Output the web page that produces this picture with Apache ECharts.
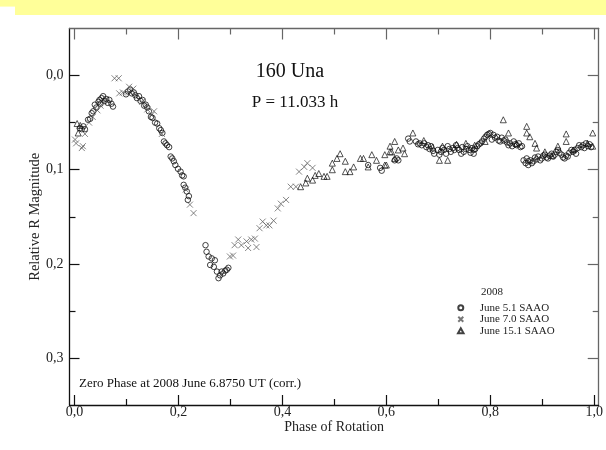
<!DOCTYPE html>
<html>
<head>
<meta charset="utf-8">
<script src="https://cdn.jsdelivr.net/npm/echarts@6/dist/echarts.min.js"></script>
<style>html,body{margin:0;padding:0;background:#fff;}#c{width:606px;height:450px;}</style>
</head>
<body>
<div id="c"></div>
<script>
// ---- data ----
const xMajorTicks = [0, 0.2, 0.4, 0.6, 0.8, 1.0];
const xMinorTicks = [0.1, 0.3, 0.5, 0.7, 0.9];
const yMajorTicks = [0, 0.1, 0.2, 0.3];
const yMinorTicks = [0.05, 0.15, 0.25];
const seriesNames = ['June 5.1 SAAO', 'June 7.0 SAAO', 'June 15.1 SAAO'];

const june51 = [
[0.010,0.056],[0.014,0.057],[0.017,0.054],[0.020,0.057],[0.026,0.047],[0.030,0.046],[0.033,0.040],[0.036,0.038],[0.039,0.031],[0.042,0.034],[0.046,0.028],[0.048,0.026],[0.050,0.030],[0.052,0.024],[0.055,0.022],[0.058,0.027],[0.061,0.025],[0.064,0.029],[0.067,0.026],[0.071,0.030],[0.074,0.033],
[0.099,0.020],[0.103,0.017],[0.107,0.015],[0.110,0.019],[0.114,0.018],[0.117,0.021],[0.120,0.024],[0.124,0.022],[0.127,0.027],[0.131,0.026],[0.134,0.032],[0.137,0.031],[0.140,0.034],[0.143,0.038],[0.147,0.044],[0.150,0.045],[0.155,0.050],[0.159,0.051],[0.163,0.056],[0.166,0.058],[0.169,0.061],[0.172,0.070],[0.175,0.072],[0.178,0.074],[0.182,0.076],[0.185,0.086],[0.188,0.088],[0.191,0.091],[0.194,0.095],[0.199,0.099],[0.204,0.102],[0.207,0.106],[0.210,0.107],[0.210,0.116],[0.213,0.119],[0.216,0.123],[0.220,0.128],[0.218,0.132],
[0.252,0.180],[0.254,0.187],[0.258,0.192],[0.261,0.201],[0.264,0.194],[0.268,0.203],[0.270,0.196],[0.274,0.208],[0.277,0.215],[0.280,0.212],[0.283,0.208],[0.286,0.210],[0.290,0.207],[0.293,0.206],[0.296,0.204],
[0.565,0.095],[0.588,0.098],[0.591,0.101],[0.616,0.090],[0.620,0.088],[0.623,0.090],[0.642,0.067],[0.645,0.070],[0.657,0.070],[0.661,0.073],[0.664,0.072],[0.668,0.074],[0.673,0.072],[0.677,0.076],[0.680,0.074],[0.683,0.078],[0.686,0.075],[0.690,0.080],[0.692,0.083],[0.699,0.079],[0.702,0.084],[0.705,0.081],[0.708,0.077],[0.711,0.079],[0.715,0.083],[0.718,0.075],[0.721,0.078],[0.724,0.081],[0.728,0.077],[0.731,0.079],[0.734,0.074],[0.737,0.077],[0.740,0.079],[0.744,0.083],[0.746,0.076],[0.749,0.081],[0.753,0.078],[0.756,0.075],[0.759,0.079],[0.762,0.082],[0.765,0.077],[0.768,0.079],[0.768,0.083],[0.771,0.078],[0.775,0.075],[0.778,0.073],[0.781,0.072],[0.784,0.070],[0.788,0.067],[0.791,0.065],[0.794,0.063],[0.797,0.062],[0.800,0.061],[0.803,0.068],[0.806,0.063],[0.809,0.066],[0.813,0.065],[0.816,0.069],[0.819,0.070],[0.822,0.066],[0.826,0.069],[0.829,0.068],[0.832,0.071],[0.835,0.074],[0.838,0.072],[0.842,0.075],[0.845,0.070],[0.848,0.073],[0.851,0.074],[0.855,0.072],[0.858,0.076],[0.861,0.075],[0.864,0.090],[0.868,0.093],[0.870,0.088],[0.873,0.091],[0.873,0.095],[0.877,0.090],[0.880,0.093],[0.883,0.091],[0.886,0.087],[0.889,0.089],[0.892,0.086],[0.896,0.090],[0.899,0.088],[0.902,0.085],[0.905,0.084],[0.908,0.087],[0.911,0.088],[0.914,0.085],[0.918,0.083],[0.921,0.086],[0.924,0.084],[0.927,0.081],[0.930,0.079],[0.933,0.082],[0.937,0.084],[0.940,0.087],[0.943,0.088],[0.946,0.085],[0.949,0.086],[0.952,0.082],[0.956,0.079],[0.959,0.081],[0.962,0.079],[0.965,0.083],[0.968,0.077],[0.971,0.074],[0.975,0.076],[0.978,0.074],[0.981,0.077],[0.984,0.072],[0.988,0.075],[0.991,0.073],[0.994,0.076]
];

const june70 = [
[0.001,0.068],[0.003,0.072],[0.016,0.075],[0.014,0.077],[0.020,0.062],[0.028,0.050],[0.035,0.044],[0.044,0.037],[0.050,0.032],[0.056,0.029],[0.060,0.025],[0.077,0.003],[0.085,0.003],[0.086,0.019],[0.093,0.018],[0.105,0.012],[0.113,0.014],[0.130,0.028],[0.140,0.036],[0.153,0.038],[0.148,0.042],[0.168,0.062],[0.214,0.121],[0.222,0.137],[0.229,0.146],
[0.299,0.192],[0.305,0.191],[0.308,0.180],[0.315,0.174],[0.321,0.180],[0.331,0.176],[0.334,0.183],[0.340,0.174],[0.347,0.173],[0.350,0.182],[0.356,0.162],[0.362,0.155],[0.369,0.159],[0.375,0.159],[0.383,0.154],[0.391,0.141],[0.397,0.136],[0.407,0.132],[0.416,0.118],[0.426,0.118],[0.432,0.102],[0.442,0.097],[0.448,0.093],[0.458,0.098]
];

const june151 = [
[0.005,0.051],[0.007,0.061],[0.011,0.053],
[0.435,0.118],[0.445,0.114],[0.448,0.109],[0.458,0.111],[0.463,0.106],[0.470,0.104],[0.480,0.107],[0.486,0.107],[0.496,0.100],[0.496,0.093],[0.505,0.088],[0.511,0.083],[0.521,0.091],[0.521,0.102],[0.530,0.102],[0.537,0.097],[0.550,0.088],[0.556,0.088],[0.565,0.097],[0.572,0.084],[0.581,0.090],[0.597,0.084],[0.597,0.095],[0.600,0.095],[0.607,0.075],[0.607,0.081],[0.610,0.081],[0.616,0.070],[0.616,0.088],[0.623,0.079],[0.632,0.077],[0.635,0.083],[0.651,0.061],[0.672,0.069],[0.689,0.076],[0.702,0.090],[0.708,0.075],[0.718,0.090],[0.735,0.073],[0.753,0.072],[0.770,0.074],[0.790,0.070],[0.825,0.047],[0.835,0.061],[0.850,0.072],[0.870,0.054],[0.870,0.061],[0.876,0.065],[0.886,0.072],[0.889,0.077],[0.905,0.081],[0.918,0.085],[0.930,0.075],[0.946,0.062],[0.946,0.070],[0.960,0.079],[0.987,0.072],[0.997,0.061],[0.997,0.075]
];

// ---- chart ----
const FONT = 'Liberation Serif, Times New Roman, serif';
const X_MIN = -0.0097, X_MAX = 1.0086, Y_MIN = -0.0498, Y_MAX = 0.3495;
const fmt = v => (Math.round(v * 10) / 10).toFixed(1).replace('.', ',');
const CROSS = 'path://M0,0L10,10M10,0L0,10';
const TRI = 'path://M5,0L10,9L0,9Z';
const DARK = '#111', GREY = '#666';

function xAx(pos, ticks, len, lineShow, color, labels) {
  return {
    type: 'value', position: pos, min: X_MIN, max: X_MAX,
    axisLine: { show: lineShow, onZero: false, lineStyle: { color: color, width: 1.3 } },
    axisTick: { show: true, inside: true, length: len, customValues: ticks, lineStyle: { color: color, width: 1.2 } },
    axisLabel: labels ? { show: true, customValues: ticks, formatter: fmt, margin: 0, color: '#222', fontFamily: FONT, fontSize: 14 } : { show: false },
    splitLine: { show: false },
    name: labels ? 'Phase of Rotation' : '', nameLocation: 'middle', nameGap: 15, nameMoveOverlap: false,
    nameTextStyle: { fontFamily: FONT, fontSize: 14, color: '#222', verticalAlign: 'top' }
  };
}
function yAx(pos, ticks, len, lineShow, color, labels) {
  return {
    type: 'value', position: pos, min: Y_MIN, max: Y_MAX, inverse: true,
    axisLine: { show: lineShow, onZero: false, lineStyle: { color: color, width: 1.3 } },
    axisTick: { show: true, inside: true, length: len, customValues: ticks, lineStyle: { color: color, width: 1.2 } },
    axisLabel: labels ? { show: true, customValues: ticks, formatter: fmt, margin: 6, color: '#222', fontFamily: FONT, fontSize: 14 } : { show: false },
    splitLine: { show: false },
    name: labels ? 'Relative R Magnitude' : '', nameLocation: 'middle', nameGap: 34, nameRotate: 90, nameMoveOverlap: false,
    nameTextStyle: { fontFamily: FONT, fontSize: 14.5, color: '#222', verticalAlign: 'middle' }
  };
}

const chart = echarts.init(document.getElementById('c'), null, { renderer: 'canvas' });
chart.setOption({
  backgroundColor: '#fff',
  animation: false,
  grid: { left: 69.5, right: 1.5, top: 28.5, bottom: 45, containLabel: false },
  xAxis: [
    xAx('bottom', xMajorTicks, 10, true, DARK, true),
    xAx('bottom', xMinorTicks, 6, false, DARK, false),
    xAx('top', xMajorTicks, 11, true, GREY, false),
    xAx('top', xMinorTicks, 6, false, GREY, false)
  ],
  yAxis: [
    yAx('left', yMajorTicks, 10, true, DARK, true),
    yAx('left', yMinorTicks, 6, false, DARK, false),
    yAx('right', yMajorTicks, 11, true, GREY, false),
    yAx('right', yMinorTicks, 6, false, GREY, false)
  ],
  legend: {
    orient: 'vertical', left: 452, top: 297,
    itemWidth: 28, itemHeight: 5, itemGap: 0, symbolKeepAspect: true,
    data: seriesNames,
    textStyle: { fontFamily: FONT, fontSize: 11, color: '#222', lineHeight: 11.5 }
  },
  series: [
    { name: seriesNames[0], type: 'scatter', data: june51, symbol: 'circle', symbolSize: 5.5,
      itemStyle: { color: 'rgba(255,255,255,0)', borderColor: '#111', borderWidth: 1 } },
    { name: seriesNames[1], type: 'scatter', data: june70, symbol: CROSS, symbolSize: 6,
      itemStyle: { color: 'rgba(255,255,255,0)', borderColor: '#555', borderWidth: 0.9 } },
    { name: seriesNames[2], type: 'scatter', data: june151, symbol: TRI, symbolSize: 6,
      itemStyle: { color: 'rgba(255,255,255,0)', borderColor: '#111', borderWidth: 0.9 } }
  ],
  graphic: [
    { type: 'rect', shape: { x: 0, y: 0, width: 606, height: 15 }, style: { fill: '#FFFF99' }, silent: true, z: -10 },
    { type: 'rect', shape: { x: 0, y: 6.6, width: 15, height: 8.4 }, style: { fill: '#fff' }, silent: true, z: -9 },
    { type: 'text', x: 290, y: 72, style: { text: '160 Una', font: '20px ' + FONT, fill: '#111', textAlign: 'center', textVerticalAlign: 'middle' } },
    { type: 'text', x: 295, y: 103, style: { text: 'P = 11.033 h', font: '17px ' + FONT, fill: '#111', textAlign: 'center', textVerticalAlign: 'middle' } },
    { type: 'text', x: 79, y: 384, style: { text: 'Zero Phase at 2008 June 6.8750 UT (corr.)', font: '13px ' + FONT, fill: '#111', textAlign: 'left', textVerticalAlign: 'middle' } },
    { type: 'text', x: 492, y: 292, style: { text: '2008', font: '11px ' + FONT, fill: '#222', textAlign: 'center', textVerticalAlign: 'middle' } }
  ]
});
</script>
</body>
</html>
